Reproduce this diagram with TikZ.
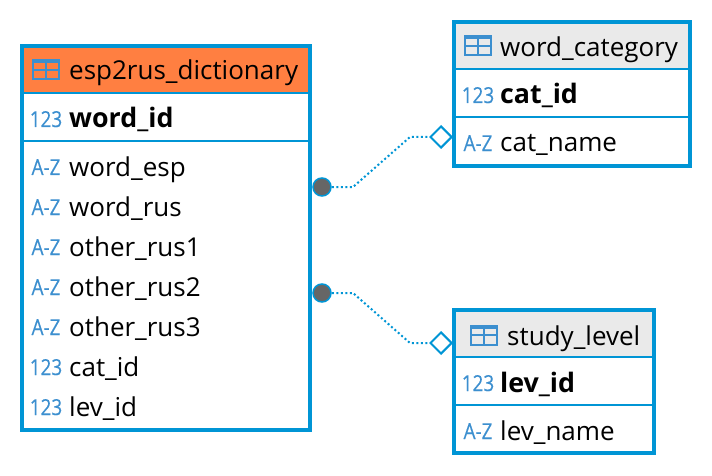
\documentclass[tikz,border=0pt]{standalone}
\usepackage{fontspec}
\setmainfont{Open Sans}
\newfontfamily\tagfont[FakeStretch=0.86,FakeBold=0.4]{Open Sans}
\usetikzlibrary{positioning,shapes.geometric}
\definecolor{frameblue}{HTML}{0095D5}
\definecolor{iconblue}{HTML}{3C8FCF}
\definecolor{headgrey}{HTML}{EAEAEA}
\definecolor{headorange}{HTML}{FF7F41}
\definecolor{dotgrey}{HTML}{666666}
\tikzset{
  tablebox/.style={draw=frameblue, line width=4pt, rectangle, inner sep=0pt, outer sep=0pt, anchor=north west},
  rowbox/.style={draw=frameblue, line width=2pt, rectangle, inner sep=0pt, outer sep=0pt, anchor=north west},
  field/.style={anchor=base west, inner sep=0pt, font=\fontsize{26}{30}\selectfont},
  keyfield/.style={field, font=\fontsize{26.8}{30}\selectfont\bfseries},
  typetag/.style={anchor=base, inner sep=0pt, text=iconblue, font=\tagfont\fontsize{22}{26}\selectfont},
  tableicon/.style={draw=iconblue, line width=2pt, rectangle, inner sep=0pt, outer sep=0pt, minimum width=26pt, minimum height=19pt},
  fkdot/.style={circle, draw=frameblue, fill=dotgrey, line width=1.5pt, inner sep=0pt, minimum size=18pt},
  fkdiamond/.style={diamond, draw=frameblue, fill=white, line width=2pt, inner sep=0pt, minimum size=22pt},
  relation/.style={draw=frameblue, line width=2pt, dash pattern=on 2pt off 2.5pt}
}
\begin{document}
\begin{tikzpicture}[x=1pt, y=-1pt]
    \useasboundingbox (0,0) rectangle (712,476);

    % Header and key rows
    \node [rowbox, fill=headorange, minimum width=288pt, minimum height=47pt] (dictHead) at (22,46) {};
    \node [rowbox, minimum width=288pt, minimum height=48pt] (dictKey) [below=0pt of dictHead.south west, anchor=north west] {};
    \node [rowbox, fill=headgrey, minimum width=236pt, minimum height=47pt] (catHead) at (454,22) {};
    \node [rowbox, minimum width=236pt, minimum height=48pt] (catKey) [below=0pt of catHead.south west, anchor=north west] {};
    \node [rowbox, fill=headgrey, minimum width=200pt, minimum height=47pt] (levHead) at (454,310) {};
    \node [rowbox, minimum width=200pt, minimum height=48pt] (levKey) [below=0pt of levHead.south west, anchor=north west] {};

    % Table frames
    \node [tablebox, minimum width=288pt, minimum height=384pt] (dictTable) at (22,46) {};
    \node [tablebox, minimum width=236pt, minimum height=144pt] (catTable) at (454,22) {};
    \node [tablebox, minimum width=200pt, minimum height=143pt] (levTable) at (454,310) {};

    % Table icons
    \foreach \ic/\xx/\yy in {dictIcon/46/70, catIcon/478/46, levIcon/484/335} {
        \node [tableicon] (\ic) at (\xx,\yy) {};
        \draw [iconblue, line width=4pt] ([yshift=-1pt]\ic.north west) -- ([yshift=-1pt]\ic.north east);
        \draw [iconblue, line width=2pt] (\ic.west) -- (\ic.east);
        \draw [iconblue, line width=2pt] (\ic.north) -- (\ic.south);
    }

    % Table names
    \node [field] (dictName) at (69,80) {esp2rus\_dictionary};
    \node [field] (catName) at (500,57) {word\_category};
    \node [field] (levName) at (507,345) {study\_level};

    % Fields of esp2rus_dictionary
    \node [typetag] (tagWordId) at (46,127) {123};
    \node [keyfield] (wordId) at (69,128) {word\_id};
    \foreach \nm/\tg/\yy in {word\_esp/A-Z/176, word\_rus/A-Z/216, other\_rus1/A-Z/256, other\_rus2/A-Z/296, other\_rus3/A-Z/336, cat\_id/123/376, lev\_id/123/416} {
        \node [typetag] at (46,\yy-1) {\tg};
        \node [field] at (69,\yy) {\nm};
    }

    % Fields of word_category
    \node [typetag] (tagCatId) at (478,103) {123};
    \node [keyfield] (catId) at (500,104) {cat\_id};
    \node [typetag] (tagCatName) at (478,151) {A-Z};
    \node [field] (catNm) at (500,152) {cat\_name};

    % Fields of study_level
    \node [typetag] (tagLevId) at (478,391) {123};
    \node [keyfield] (levId) at (500,392) {lev\_id};
    \node [typetag] (tagLevName) at (478,439) {A-Z};
    \node [field] (levNm) at (500,440) {lev\_name};

    % Relations
    \node [fkdot] (dotCat) at (322,187) {};
    \node [fkdot] (dotLev) at (322,293) {};
    \node [fkdiamond] (diaCat) at (441,137) {};
    \node [fkdiamond] (diaLev) at (441,343) {};
    \coordinate (catA) at (353,187);
    \coordinate (catB) at (410,137);
    \coordinate (levA) at (353,293);
    \coordinate (levB) at (410,343);
    \draw [relation] (dotCat) -- (catA) -- (catB) -- (diaCat);
    \draw [relation] (dotLev) -- (levA) -- (levB) -- (diaLev);
\end{tikzpicture}
\end{document}
